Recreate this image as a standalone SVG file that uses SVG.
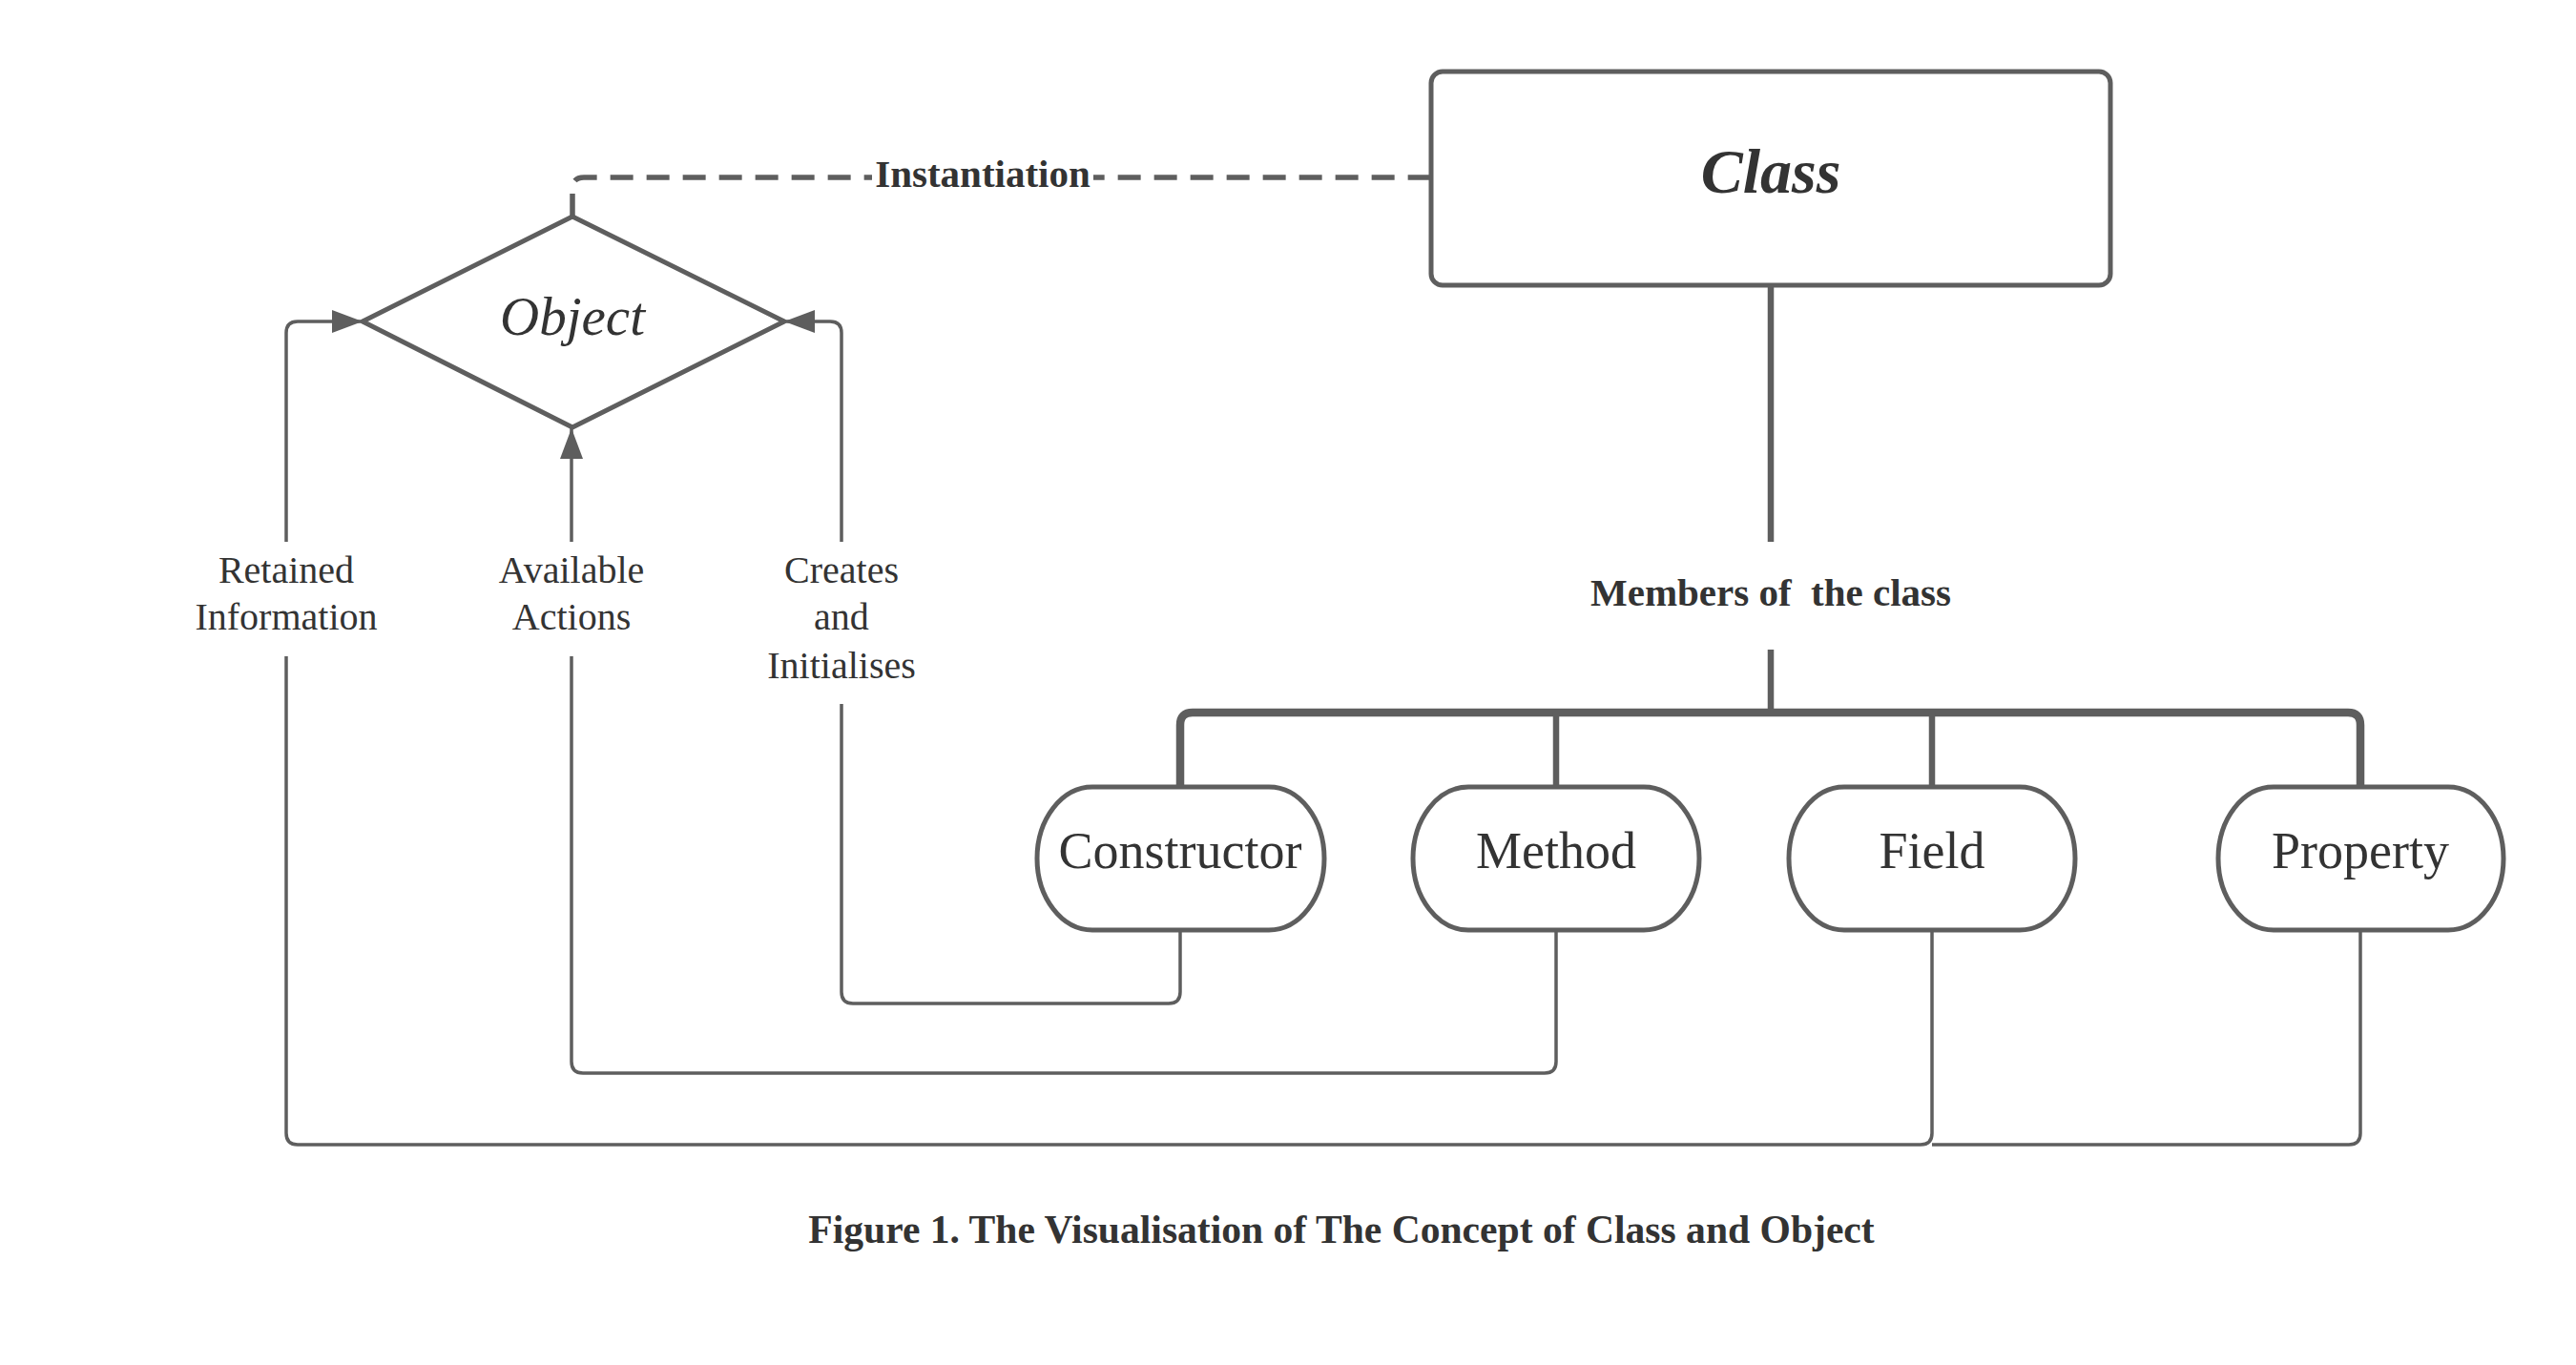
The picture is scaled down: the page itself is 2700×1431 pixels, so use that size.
<svg xmlns="http://www.w3.org/2000/svg" width="2700" height="1431" viewBox="0 0 2700 1431">
<defs>
<style>
.node{fill:#ffffff;stroke:#5e5e5e;stroke-width:5;stroke-linejoin:round}
.thin{fill:none;stroke:#5e5e5e;stroke-width:3.5;stroke-linejoin:round}
.thick{fill:none;stroke:#5e5e5e;stroke-width:6.5}
.dash{fill:none;stroke:#5e5e5e;stroke-width:5.5;stroke-dasharray:24 14}
text{font-family:"Liberation Serif","Times New Roman",serif;fill:#333333;text-anchor:middle}
.lbl{font-size:40px}
.bold{font-size:41px;font-weight:bold}
.pill{font-size:54px}
</style>
<marker id="arr" markerUnits="userSpaceOnUse" markerWidth="34" markerHeight="26" refX="32" refY="12" orient="auto">
<path d="M0,0 L32,12 L0,24 z" fill="#5e5e5e"/>
</marker>
</defs>
<rect width="2700" height="1431" fill="#ffffff"/>
<g id="connectors">
<path class="dash" d="M600,227 V198 Q600,186 612,186 H1500"/>
<rect x="914" y="160" width="232" height="50" fill="#ffffff"/>
<text class="bold" x="1030" y="196">Instantiation</text>
<path class="thick" d="M1856,299 V568 M1856,681 V750"/>
<path fill="none" stroke="#5e5e5e" stroke-width="8.5" d="M1237,825 V760 Q1237,747 1250,747 H2461 Q2474,747 2474,760 V825"/>
<path class="thick" d="M1631,747 V825 M2025,747 V825"/>
<text class="bold" x="1856" y="635" xml:space="preserve" style="white-space:pre">Members of  the class</text>
<path class="thin" d="M2025,975 V1188 Q2025,1200 2013,1200 H312 Q300,1200 300,1188 V688"/>
<path class="thin" d="M2474,975 V1188 Q2474,1200 2462,1200 H2025"/>
<path class="thin" marker-end="url(#arr)" d="M300,568 V349 Q300,337 312,337 H380"/>
<path class="thin" d="M1631,975 V1113 Q1631,1125 1619,1125 H611 Q599,1125 599,1113 V688"/>
<path class="thin" marker-end="url(#arr)" d="M599,568 V449"/>
<path class="thin" d="M1237,975 V1040 Q1237,1052 1225,1052 H894 Q882,1052 882,1040 V738"/>
<path class="thin" marker-end="url(#arr)" d="M882,568 V349 Q882,337 870,337 H822"/>
<text class="lbl" x="300" y="611">Retained</text>
<text class="lbl" x="300" y="660">Information</text>
<text class="lbl" x="599" y="611">Available</text>
<text class="lbl" x="599" y="660">Actions</text>
<text class="lbl" x="882" y="611">Creates</text>
<text class="lbl" x="882" y="660">and</text>
<text class="lbl" x="882" y="711">Initialises</text>
</g>
<g id="class">
<rect class="node" x="1500" y="75" width="712" height="224" rx="12"/>
<text x="1856" y="202" style="font-size:66px;font-weight:bold;font-style:italic">Class</text>
</g>
<g id="object">
<path class="node" d="M600,227 L822,337 L600,448 L380,337 Z"/>
<text x="600" y="351" style="font-size:57px;font-style:italic">Object</text>
</g>
<g id="constructor">
<rect class="node" x="1087" y="825" width="301" height="150" rx="58" ry="75"/>
<text class="pill" x="1237" y="910">Constructor</text>
</g>
<g id="method">
<rect class="node" x="1481" y="825" width="300" height="150" rx="58" ry="75"/>
<text class="pill" x="1631" y="910">Method</text>
</g>
<g id="field">
<rect class="node" x="1875" y="825" width="300" height="150" rx="58" ry="75"/>
<text class="pill" x="2025" y="910">Field</text>
</g>
<g id="property">
<rect class="node" x="2325" y="825" width="299" height="150" rx="58" ry="75"/>
<text class="pill" x="2474" y="910">Property</text>
</g>
<text x="1406" y="1303" style="font-size:41.6px;font-weight:bold">Figure 1. The Visualisation of The Concept of Class and Object</text>
</svg>
